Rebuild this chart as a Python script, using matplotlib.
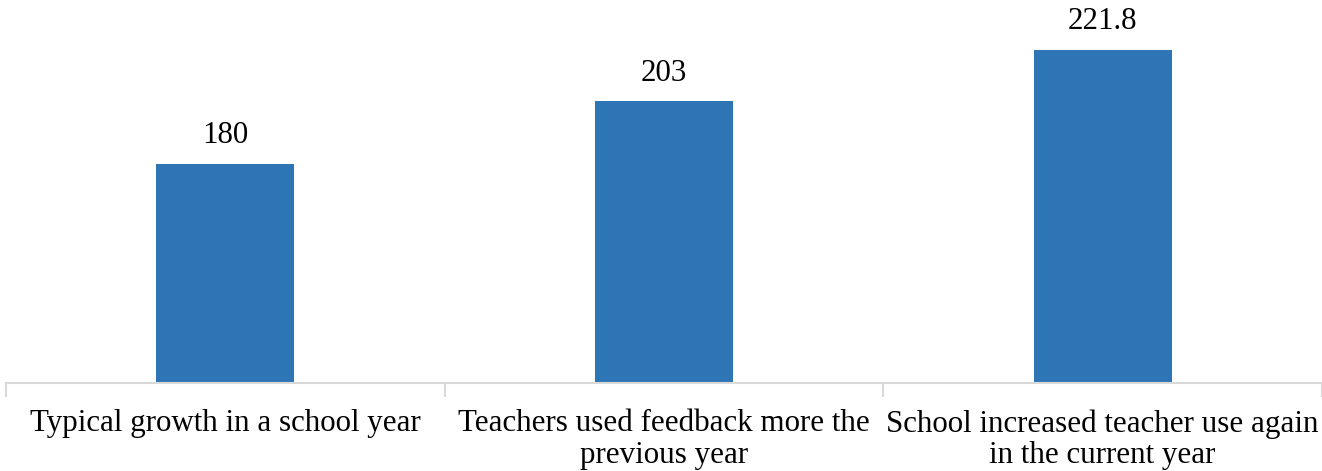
import matplotlib.pyplot as plt
import numpy as np

categories = [
    "Typical growth in a school year",
    "Teachers used feedback more the\nprevious year",
    "School increased teacher use again\nin the current year",
]
values = [180, 203, 221.8]
value_labels = ["180", "203", "221.8"]

plt.rcParams["font.family"] = ["Liberation Serif", "DejaVu Serif"]

fig = plt.figure(figsize=(13.22, 4.71), dpi=100)
ax = fig.add_axes([0.0045, 0.187, 0.9955, 0.813])

x = np.arange(len(categories))
ax.bar(x, np.array(values) - 100, bottom=100, width=0.315, color="#2E75B6")

for xi, v, lab in zip(x, values, value_labels):
    ax.text(xi, v + 5.0, lab, ha="center", va="bottom", fontsize=22.3)

ax.set_xlim(-0.5, 2.5)
ax.set_ylim(100, 240)
ax.set_yticks([])
for s in ["top", "right", "left"]:
    ax.spines[s].set_visible(False)
ax.spines["bottom"].set_color("#D9D9D9")
ax.spines["bottom"].set_linewidth(1.5)

ax.set_xticks(x)
ax.set_xticklabels(categories, fontsize=22.3, linespacing=1.12)
ax.tick_params(axis="x", which="major", length=0, pad=19)
ax.set_xticks(np.arange(-0.5, 3.0, 1.0), minor=True)
ax.tick_params(axis="x", which="minor", length=10, width=1.5, color="#D9D9D9")

fig.savefig("out.png", dpi=100)
